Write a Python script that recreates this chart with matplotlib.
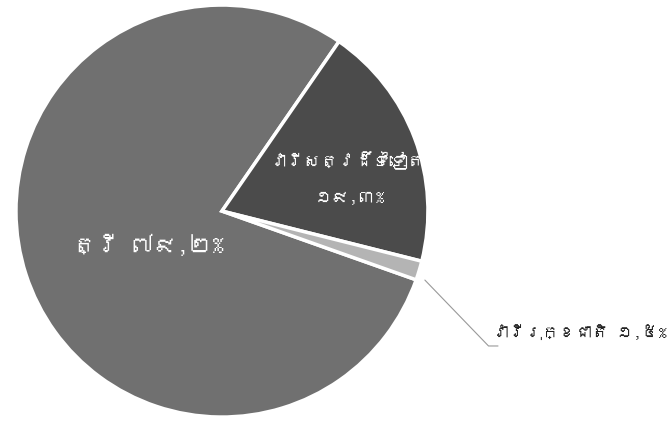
import matplotlib
matplotlib.use('Agg')
import matplotlib.pyplot as plt
from matplotlib import font_manager
from fontTools.ttLib import TTFont

# share of each group (percent)
labels = ['ត្រី', 'វារីសត្វដ៏ទៃទៀត', 'វារីរុក្ខជាតិ']
values = [79.2, 19.3, 1.5]
value_text = ['៧៩,២%', '១៩,៣%', '១,៥%']
colors = ['#707070', '#4b4b4b', '#b4b4b4']


def find_khmer_font():
    # look for any installed font that has Khmer glyphs
    for f in font_manager.fontManager.ttflist:
        try:
            cmap = TTFont(f.fname, fontNumber=0, lazy=True).getBestCmap()
        except Exception:
            continue
        if cmap and 0x1780 in cmap:
            return f.name
    return None


def fit_width(txt, width_px):
    # shrink/grow font so the text spans about width_px pixels
    r = fig.canvas.get_renderer()
    w = txt.get_window_extent(renderer=r).width
    txt.set_fontsize(txt.get_fontsize() * width_px / w)


khmer = find_khmer_font()
families = [khmer, 'DejaVu Sans'] if khmer else ['DejaVu Sans']
plt.rcParams['font.family'] = families

fig = plt.figure(figsize=(6.71, 4.31), dpi=100)
ax = fig.add_axes([0.0238, 0.030, 0.614, 0.956])

wedges, _ = ax.pie(values, colors=colors, startangle=-19.5, counterclock=False,
                   radius=1.0, wedgeprops=dict(edgecolor='white', linewidth=2.5))
ax.set_xlim(-1, 1)
ax.set_ylim(-1, 1)
ax.set_aspect('equal')
ax.axis('off')

# labels inside the slices
t1 = ax.text(-0.36, -0.16, labels[0] + ' ' + value_text[0], color='white',
             fontsize=17, fontweight='bold', ha='center', va='center')
t2 = ax.text(0.61, 0.25, labels[1], color='white', fontsize=13,
             ha='center', va='center')
t3 = ax.text(0.62, 0.07, value_text[1], color='white', fontsize=13,
             ha='center', va='center')

# leader line for the small slice
ax.annotate('', xy=(0.985, -0.335), xytext=(1.34, -0.655),
            annotation_clip=False,
            arrowprops=dict(arrowstyle='-', color='#999999', lw=0.8,
                            connectionstyle='angle,angleA=0,angleB=-46,rad=0',
                            shrinkA=0, shrinkB=0))
t4 = ax.text(1.31, -0.62, labels[2] + ' ' + value_text[2], fontsize=13,
             color='#222222', ha='left', va='bottom', clip_on=False)

fit_width(t1, 150)
fit_width(t2, 155)
fit_width(t3, 70)
fit_width(t4, 174)

fig.savefig('out.png', dpi=100, facecolor='white')
